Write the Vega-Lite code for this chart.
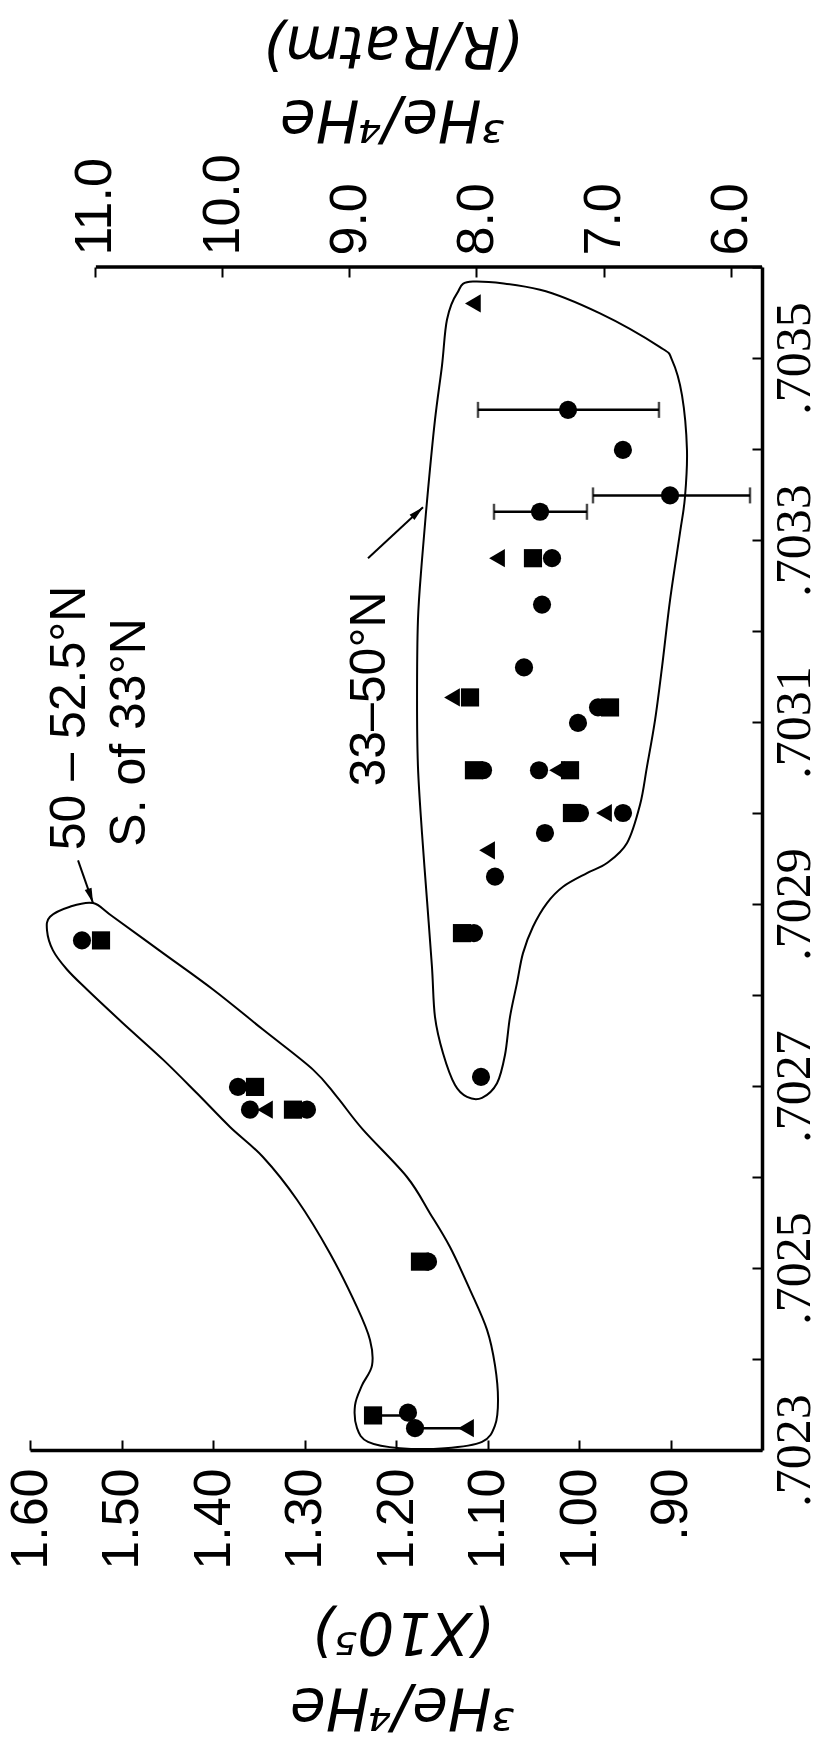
{
  "$schema": "https://vega.github.io/schema/vega-lite/v6.json",
  "width": 732,
  "height": 1183,
  "autosize": {"type": "none"},
  "padding": {"left": 30, "top": 267, "right": 59, "bottom": 300},
  "background": "white",
  "config": {"view": {"stroke": null}},
  "datasets": {
    "frame": [{"he": 1.528, "he2": 0.8, "sr": 0.7036}],
    "loops": [
      {"loop": "A", "ord": 1, "he": 1.1333, "sr": 0.703571},
      {"loop": "A", "ord": 2, "he": 1.1159, "sr": 0.703584},
      {"loop": "A", "ord": 3, "he": 1.0426, "sr": 0.703575},
      {"loop": "A", "ord": 4, "he": 0.977, "sr": 0.703549},
      {"loop": "A", "ord": 5, "he": 0.9115, "sr": 0.703512},
      {"loop": "A", "ord": 6, "he": 0.8984, "sr": 0.703498},
      {"loop": "A", "ord": 7, "he": 0.8874, "sr": 0.703459},
      {"loop": "A", "ord": 8, "he": 0.882, "sr": 0.703399},
      {"loop": "A", "ord": 9, "he": 0.8842, "sr": 0.703347},
      {"loop": "A", "ord": 10, "he": 0.8896, "sr": 0.703308},
      {"loop": "A", "ord": 11, "he": 0.9005, "sr": 0.703234},
      {"loop": "A", "ord": 12, "he": 0.9093, "sr": 0.70316},
      {"loop": "A", "ord": 13, "he": 0.9169, "sr": 0.703102},
      {"loop": "A", "ord": 14, "he": 0.9257, "sr": 0.703051},
      {"loop": "A", "ord": 15, "he": 0.9333, "sr": 0.703009},
      {"loop": "A", "ord": 16, "he": 0.9475, "sr": 0.702967},
      {"loop": "A", "ord": 17, "he": 0.9694, "sr": 0.702945},
      {"loop": "A", "ord": 18, "he": 0.9913, "sr": 0.702934},
      {"loop": "A", "ord": 19, "he": 1.0175, "sr": 0.702919},
      {"loop": "A", "ord": 20, "he": 1.035, "sr": 0.702901},
      {"loop": "A", "ord": 21, "he": 1.0503, "sr": 0.702875},
      {"loop": "A", "ord": 22, "he": 1.0612, "sr": 0.702846},
      {"loop": "A", "ord": 23, "he": 1.0678, "sr": 0.702813},
      {"loop": "A", "ord": 24, "he": 1.0754, "sr": 0.702776},
      {"loop": "A", "ord": 25, "he": 1.0809, "sr": 0.702734},
      {"loop": "A", "ord": 26, "he": 1.0896, "sr": 0.702703},
      {"loop": "A", "ord": 27, "he": 1.106, "sr": 0.702687},
      {"loop": "A", "ord": 28, "he": 1.1224, "sr": 0.702688},
      {"loop": "A", "ord": 29, "he": 1.1355, "sr": 0.702701},
      {"loop": "A", "ord": 30, "he": 1.1486, "sr": 0.702736},
      {"loop": "A", "ord": 31, "he": 1.1574, "sr": 0.702776},
      {"loop": "A", "ord": 32, "he": 1.1607, "sr": 0.702831},
      {"loop": "A", "ord": 33, "he": 1.1661, "sr": 0.702904},
      {"loop": "A", "ord": 34, "he": 1.1716, "sr": 0.702978},
      {"loop": "A", "ord": 35, "he": 1.176, "sr": 0.703051},
      {"loop": "A", "ord": 36, "he": 1.177, "sr": 0.703124},
      {"loop": "A", "ord": 37, "he": 1.176, "sr": 0.703212},
      {"loop": "A", "ord": 38, "he": 1.1716, "sr": 0.703278},
      {"loop": "A", "ord": 39, "he": 1.165, "sr": 0.703355},
      {"loop": "A", "ord": 40, "he": 1.1574, "sr": 0.703432},
      {"loop": "A", "ord": 41, "he": 1.1497, "sr": 0.703492},
      {"loop": "A", "ord": 42, "he": 1.1443, "sr": 0.703542},
      {"loop": "B", "ord": 1, "he": 1.5311, "sr": 0.702901},
      {"loop": "B", "ord": 2, "he": 1.5093, "sr": 0.702886},
      {"loop": "B", "ord": 3, "he": 1.4546, "sr": 0.702846},
      {"loop": "B", "ord": 4, "he": 1.4, "sr": 0.702806},
      {"loop": "B", "ord": 5, "he": 1.3454, "sr": 0.702762},
      {"loop": "B", "ord": 6, "he": 1.2907, "sr": 0.702718},
      {"loop": "B", "ord": 7, "he": 1.2645, "sr": 0.702688},
      {"loop": "B", "ord": 8, "he": 1.2361, "sr": 0.702652},
      {"loop": "B", "ord": 9, "he": 1.188, "sr": 0.7026},
      {"loop": "B", "ord": 10, "he": 1.1628, "sr": 0.70256},
      {"loop": "B", "ord": 11, "he": 1.141, "sr": 0.702523},
      {"loop": "B", "ord": 12, "he": 1.1191, "sr": 0.702476},
      {"loop": "B", "ord": 13, "he": 1.1005, "sr": 0.702432},
      {"loop": "B", "ord": 14, "he": 1.0918, "sr": 0.702393},
      {"loop": "B", "ord": 15, "he": 1.0885, "sr": 0.702355},
      {"loop": "B", "ord": 16, "he": 1.0918, "sr": 0.702327},
      {"loop": "B", "ord": 17, "he": 1.106, "sr": 0.702309},
      {"loop": "B", "ord": 18, "he": 1.1464, "sr": 0.702302},
      {"loop": "B", "ord": 19, "he": 1.1956, "sr": 0.702302},
      {"loop": "B", "ord": 20, "he": 1.2306, "sr": 0.702309},
      {"loop": "B", "ord": 21, "he": 1.2426, "sr": 0.702324},
      {"loop": "B", "ord": 22, "he": 1.2448, "sr": 0.702349},
      {"loop": "B", "ord": 23, "he": 1.2372, "sr": 0.702371},
      {"loop": "B", "ord": 24, "he": 1.2262, "sr": 0.702393},
      {"loop": "B", "ord": 25, "he": 1.2284, "sr": 0.702421},
      {"loop": "B", "ord": 26, "he": 1.2426, "sr": 0.702457},
      {"loop": "B", "ord": 27, "he": 1.2721, "sr": 0.702516},
      {"loop": "B", "ord": 28, "he": 1.3082, "sr": 0.702575},
      {"loop": "B", "ord": 29, "he": 1.3454, "sr": 0.702622},
      {"loop": "B", "ord": 30, "he": 1.3814, "sr": 0.702655},
      {"loop": "B", "ord": 31, "he": 1.4175, "sr": 0.702692},
      {"loop": "B", "ord": 32, "he": 1.4546, "sr": 0.702729},
      {"loop": "B", "ord": 33, "he": 1.4984, "sr": 0.702769},
      {"loop": "B", "ord": 34, "he": 1.5377, "sr": 0.702806},
      {"loop": "B", "ord": 35, "he": 1.5596, "sr": 0.702828},
      {"loop": "B", "ord": 36, "he": 1.5749, "sr": 0.702849},
      {"loop": "B", "ord": 37, "he": 1.5814, "sr": 0.702871},
      {"loop": "B", "ord": 38, "he": 1.5781, "sr": 0.702886},
      {"loop": "B", "ord": 39, "he": 1.5563, "sr": 0.702897}
    ],
    "pts": [
      {"he": 1.116, "sr": 0.70356, "sym": "triangle"},
      {"he": 1.012, "sr": 0.703443, "sym": "circle"},
      {"he": 0.952, "sr": 0.703399, "sym": "circle"},
      {"he": 0.9005, "sr": 0.703349, "sym": "circle"},
      {"he": 1.0426, "sr": 0.703331, "sym": "circle"},
      {"he": 1.0896, "sr": 0.70328, "sym": "triangle"},
      {"he": 1.0503, "sr": 0.70328, "sym": "square"},
      {"he": 1.0295, "sr": 0.70328, "sym": "circle"},
      {"he": 1.0404, "sr": 0.703229, "sym": "circle"},
      {"he": 1.0601, "sr": 0.70316, "sym": "circle"},
      {"he": 1.1388, "sr": 0.703127, "sym": "triangle"},
      {"he": 1.1191, "sr": 0.703127, "sym": "square"},
      {"he": 0.9792, "sr": 0.703116, "sym": "circle"},
      {"he": 0.9661, "sr": 0.703116, "sym": "square"},
      {"he": 1.0011, "sr": 0.703099, "sym": "circle"},
      {"he": 1.1148, "sr": 0.703047, "sym": "square"},
      {"he": 1.1049, "sr": 0.703047, "sym": "circle"},
      {"he": 1.0437, "sr": 0.703047, "sym": "circle"},
      {"he": 1.024, "sr": 0.703047, "sym": "triangle"},
      {"he": 1.0098, "sr": 0.703047, "sym": "square"},
      {"he": 1.0077, "sr": 0.703, "sym": "square"},
      {"he": 0.9989, "sr": 0.703, "sym": "circle"},
      {"he": 0.9727, "sr": 0.703, "sym": "triangle"},
      {"he": 0.9519, "sr": 0.703, "sym": "circle"},
      {"he": 1.0372, "sr": 0.702978, "sym": "circle"},
      {"he": 1.1005, "sr": 0.702959, "sym": "triangle"},
      {"he": 1.0918, "sr": 0.70293, "sym": "circle"},
      {"he": 1.1279, "sr": 0.702868, "sym": "square"},
      {"he": 1.1148, "sr": 0.702868, "sym": "circle"},
      {"he": 1.1071, "sr": 0.70271, "sym": "circle"},
      {"he": 1.5432, "sr": 0.70286, "sym": "circle"},
      {"he": 1.5224, "sr": 0.70286, "sym": "square"},
      {"he": 1.3727, "sr": 0.702699, "sym": "circle"},
      {"he": 1.3541, "sr": 0.702699, "sym": "square"},
      {"he": 1.3596, "sr": 0.702674, "sym": "circle"},
      {"he": 1.3432, "sr": 0.702674, "sym": "triangle"},
      {"he": 1.3126, "sr": 0.702674, "sym": "square"},
      {"he": 1.2973, "sr": 0.702674, "sym": "circle"},
      {"he": 1.1738, "sr": 0.702507, "sym": "square"},
      {"he": 1.165, "sr": 0.702507, "sym": "circle"},
      {"he": 1.2251, "sr": 0.702338, "sym": "square"},
      {"he": 1.1869, "sr": 0.702341, "sym": "circle"},
      {"he": 1.1792, "sr": 0.702324, "sym": "circle"},
      {"he": 1.1235, "sr": 0.702324, "sym": "triangle"}
    ],
    "bars": [
      {"he": 1.1104, "he2": 0.9126, "sr": 0.703443},
      {"he": 0.9847, "he2": 0.8131, "sr": 0.703349},
      {"he": 1.0929, "he2": 0.9913, "sr": 0.703331},
      {"he": 1.2251, "he2": 1.1869, "sr": 0.702338},
      {"he": 1.1792, "he2": 1.1235, "sr": 0.702324}
    ],
    "caps": [
      {"he": 1.1104, "sr": 0.703443},
      {"he": 0.9126, "sr": 0.703443},
      {"he": 0.9847, "sr": 0.703349},
      {"he": 0.8131, "sr": 0.703349},
      {"he": 1.0929, "sr": 0.703331},
      {"he": 0.9913, "sr": 0.703331}
    ],
    "labels": [
      {"he": 1.5399, "sr": 0.702959, "label": "50 – 52.5°N"},
      {"he": 1.4743, "sr": 0.702963, "label": "S. of 33°N"},
      {"he": 1.212, "sr": 0.703029, "label": "33–50°N"}
    ],
    "arrows": [
      {"id": 1, "he": 1.5475, "sr": 0.702948, "he2": 1.5311, "sr2": 0.702901},
      {"id": 2, "he": 1.2306, "sr": 0.70328, "he2": 1.1705, "sr2": 0.703336}
    ],
    "heads": [
      {"id": 1, "he": 1.5311, "sr": 0.702901},
      {"id": 2, "he": 1.1705, "sr": 0.703336}
    ]
  },
  "resolve": {"scale": {"x": "independent"}, "axis": {"x": "independent"}},
  "layer": [
    {
      "encoding": {
        "x": {
          "field": "he", "type": "quantitative",
          "scale": {"domain": [0.8, 1.6], "reverse": true, "nice": false, "zero": false},
          "axis": {
            "orient": "bottom",
            "values": [1.6, 1.5, 1.4, 1.3, 1.2, 1.1, 1.0, 0.9],
            "labelExpr": "datum.value >= 1 ? format(datum.value, '.2f') : replace(format(datum.value, '.2f'), '0.', '.')",
            "labelAngle": 270, "labelAlign": "right", "labelBaseline": "middle",
            "labelFont": "Liberation Sans Narrow, Liberation Sans", "labelFontSize": 52, "labelColor": "black",
            "labelPadding": 28, "labelOverlap": false, "labelFlush": false, "labelBound": false,
            "tickSize": -10, "tickWidth": 2, "tickColor": "black",
            "domainColor": "black", "domainWidth": 3.5, "grid": false,
            "title": ["³He/⁴He", "(X10⁵)"],
            "titleFont": "DejaVu Sans", "titleFontStyle": "italic", "titleFontWeight": "normal",
            "titleFontSize": 58, "titleColor": "black", "titleAngle": 180,
            "titleAlign": "center", "titleBaseline": "middle", "titleLineHeight": 76,
            "titleX": 372, "titleY": 255
          }
        },
        "y": {
          "field": "sr", "type": "quantitative",
          "scale": {"domain": [0.7023, 0.7036], "nice": false, "zero": false},
          "axis": {
            "orient": "right",
            "values": [0.7023, 0.7024, 0.7025, 0.7026, 0.7027, 0.7028, 0.7029, 0.703, 0.7031, 0.7032, 0.7033, 0.7034, 0.7035, 0.7036],
            "labelExpr": "round(datum.value * 10000) % 2 == 1 ? replace(format(datum.value, '.4f'), '0.', '.') : ''",
            "labelAngle": 270, "labelAlign": "center", "labelBaseline": "alphabetic",
            "labelFont": "Liberation Serif", "labelFontSize": 50, "labelColor": "black",
            "labelPadding": 57, "labelOverlap": false, "labelFlush": false, "labelBound": false,
            "tickSize": -10, "tickWidth": 2, "tickColor": "black",
            "domainColor": "black", "domainWidth": 3.5, "grid": false,
            "title": null
          }
        }
      },
      "layer": [
        {
          "data": {"name": "frame"},
          "mark": {"type": "rule", "strokeWidth": 3.5, "color": "black"},
          "encoding": {"x2": {"field": "he2"}}
        },
        {
          "data": {"name": "loops"},
          "mark": {"type": "line", "interpolate": "cardinal-closed", "strokeWidth": 2, "color": "black"},
          "encoding": {
            "detail": {"field": "loop", "type": "nominal"},
            "order": {"field": "ord", "type": "quantitative"}
          }
        },
        {
          "data": {"name": "bars"},
          "mark": {"type": "rule", "strokeWidth": 2.5, "color": "black"},
          "encoding": {"x2": {"field": "he2"}}
        },
        {
          "data": {"name": "caps"},
          "mark": {"type": "tick", "orient": "vertical", "size": 16, "thickness": 2.5, "color": "black"}
        },
        {
          "data": {"name": "pts"},
          "mark": {"type": "point", "filled": true, "opacity": 1, "size": 330, "color": "black"},
          "encoding": {
            "shape": {
              "field": "sym", "type": "nominal",
              "scale": {"domain": ["circle", "square", "triangle"], "range": ["circle", "square", "triangle-left"]},
              "legend": null
            }
          }
        },
        {
          "data": {"name": "labels"},
          "mark": {"type": "text", "angle": 270, "align": "left", "baseline": "alphabetic", "font": "Liberation Sans", "fontSize": 50, "color": "black"},
          "encoding": {"text": {"field": "label"}}
        },
        {
          "data": {"name": "arrows"},
          "mark": {"type": "rule", "strokeWidth": 2, "color": "black"},
          "encoding": {"x2": {"field": "he2"}, "y2": {"field": "sr2"}}
        },
        {
          "data": {"name": "heads"},
          "transform": [{"filter": "datum.id == 1"}],
          "mark": {"type": "point", "filled": true, "opacity": 1, "color": "black", "size": 144, "angle": 161, "shape": "M0,0L0.6,2.5L-0.6,2.5Z"}
        },
        {
          "data": {"name": "heads"},
          "transform": [{"filter": "datum.id == 2"}],
          "mark": {"type": "point", "filled": true, "opacity": 1, "color": "black", "size": 144, "angle": 47, "shape": "M0,0L0.6,2.5L-0.6,2.5Z"}
        }
      ]
    },
    {
      "data": {"values": [{}]},
      "mark": {"type": "point", "opacity": 0},
      "encoding": {
        "x": {
          "datum": 11, "type": "quantitative",
          "scale": {"domain": [5.755, 11.51], "reverse": true, "nice": false, "zero": false},
          "axis": {
            "orient": "top",
            "values": [11, 10, 9, 8, 7, 6],
            "labelExpr": "format(datum.value, '.1f')",
            "labelAngle": 270, "labelAlign": "left", "labelBaseline": "middle",
            "labelFont": "Liberation Sans Narrow, Liberation Sans", "labelFontSize": 52, "labelColor": "black",
            "labelPadding": 22, "labelOverlap": false, "labelFlush": false, "labelBound": false,
            "tickSize": -10, "tickWidth": 2, "tickColor": "black",
            "domain": false, "grid": false,
            "title": ["³He/⁴He", "(R/Ratm)"],
            "titleFont": "DejaVu Sans", "titleFontStyle": "italic", "titleFontWeight": "normal",
            "titleFontSize": 58, "titleColor": "black", "titleAngle": 180,
            "titleAlign": "center", "titleBaseline": "middle", "titleLineHeight": 74,
            "titleX": 362, "titleY": -150
          }
        }
      }
    }
  ]
}
